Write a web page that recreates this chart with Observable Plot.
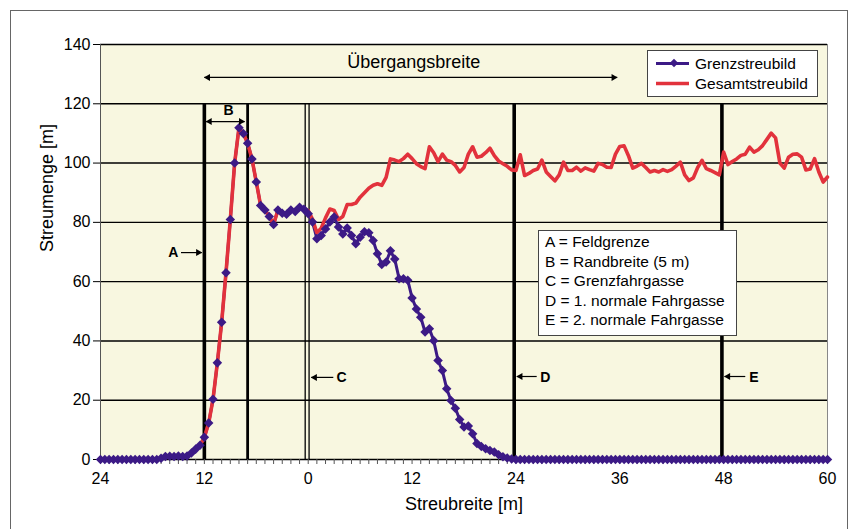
<!DOCTYPE html>
<html>
<head>
<meta charset="utf-8">
<script src="https://cdn.jsdelivr.net/npm/d3@7"></script>
<script src="https://cdn.jsdelivr.net/npm/@observablehq/plot@0.6"></script>
<style>
  html, body { margin: 0; padding: 0; background: #fff; }
  #wrap { position: relative; width: 856px; height: 529px; overflow: hidden; font-family: "Liberation Sans", Arial, sans-serif; }
  #outer { position: absolute; left: 10px; top: 10px; width: 838px; height: 540px; border: 1px solid #666; box-sizing: border-box; }
  #chart { position: absolute; left: 0; top: 0; }
  #legend { position: absolute; left: 647px; top: 50px; width: 171px; height: 47px; box-sizing: border-box; border: 1px solid #444; background: #fff; }
  #legend .row { position: absolute; left: 0; height: 20px; width: 100%; font-size: 15.5px; line-height: 20px; }
  #legend svg { position: absolute; left: 7px; top: 0; }
  #legend span { position: absolute; left: 47px; top: 0; white-space: nowrap; }
  #keybox { position: absolute; left: 538px; top: 230px; width: 199px; height: 106px; box-sizing: border-box; border: 1px solid #444; background: #fff; padding: 1px 0 0 6px; font-size: 15.5px; line-height: 19.5px; white-space: nowrap; }
</style>
</head>
<body>
<div id="wrap">
  <div id="outer"></div>
  <div id="chart"></div>
  <div id="legend"></div>
  <div id="keybox"></div>
</div>
<script>
// ---------- data ----------
// positions across the field (m), every 0.5 m from -24 to 60
const streubreite = d3.range(169).map(i => -24 + i * 0.5);

// Grenzstreubild (border spreading pattern), one value per position
const grenzstreubild = [
  0,0,0,0,0,0,0,0,0,0,0,0,0,0,                       // -24 .. -17.5
  0.4,1.0,1.1,1.0,1.2,1.0,1.2,2.2,3.5,4.8,            // -17 .. -12.5
  7.5,12.3,20.3,32.6,46.3,63,81,100,111.9,110,        // -12 .. -7.5
  106.7,101.4,93.6,85.7,84.2,82,79.3,84.2,83.1,82.7,  // -7 .. -2.5
  84.2,83.7,85.1,84.4,                                // -2 .. -0.5
  82.9,80.1,74.5,75.6,77.8,80.1,81.8,78.4,76.1,78.1,  // 0 .. 4.5
  75.6,72.8,75,76.8,76.5,73.9,69.4,65.8,66.6,70.4,    // 5 .. 9.5
  67.6,61,61,60.5,54.5,50.8,48,43,44.1,40.1,          // 10 .. 14.5
  33.4,30,23.9,19.9,17.3,13.5,11,11.3,8.7,5.4,        // 15 .. 19.5
  4.4,3.6,3.0,2.5,1.6,0.9,0.5,0.2,                    // 20 .. 23.5
  0,0,0,0,0,0,0,0,0,0,0,0,0,0,0,0,0,0,0,0,0,0,0,0,     // 24 .. 35.5
  0,0,0,0,0,0,0,0,0,0,0,0,0,0,0,0,0,0,0,0,0,0,0,0,     // 36 .. 47.5
  0,0,0,0,0,0,0,0,0,0,0,0,0,0,0,0,0,0,0,0,0,0,0,0,0    // 48 .. 60
];

// Gesamtstreubild (total spreading pattern)
const gesamtstreubild = [
  0,0,0,0,0,0,0,0,0,0,0,0,0,0,
  0.4,1.0,1.1,1.0,1.2,1.0,1.2,2.2,3.5,4.8,
  7.5,12.3,20.3,32.6,46.3,63,81,100,111.9,110,
  106.7,101.4,93.6,85.7,84.2,82,79.3,84.2,83.1,82.7,
  84.2,83.7,85.1,84.4,
  84,81,76.5,78,81.5,84.5,84,81,82,86,                // 0 .. 4.5
  86,86.5,88.5,90,91.5,92.5,93,92.5,95.2,101.4,       // 5 .. 9.5
  101,100.5,101.5,103,101.5,99.8,98.8,98.1,105.5,103.5, // 10 .. 14.5
  100.5,103,101,100.5,99.2,97,98.5,103,105.5,102,     // 15 .. 19.5
  102.3,103.5,105,102.5,100.7,99.8,98.9,97.7,         // 20 .. 23.5
  97.5,102.8,95.8,96.5,97.5,98,101,97,95.5,94,96,100.3,       // 24 .. 29.5
  97.5,97.5,98.6,97.3,98.4,97.8,97.3,99.9,99.5,98.6,98.5,103, // 30 .. 35.5
  105.6,105.8,102.5,98.3,99,99.9,98.5,97,97.5,97,97.8,97.2,   // 36 .. 41.5
  97.8,99,100.3,96,94.1,95,98.5,100.9,98.1,97.5,96.8,96,      // 42 .. 47.5
  103.7,99.5,100.5,101.4,102.6,103,105.4,103.7,104.5,105.9,108,110.1, // 48 .. 53.5
  108.5,100,98.3,102,103,103.1,102,97.7,98,101.5,97,93.6,     // 54 .. 59.5
  95.3                                                        // 60
];

const xTickValues = [-24, -12, 0, 12, 24, 36, 48, 60];
const yTickValues = [0, 20, 40, 60, 80, 100, 120, 140];
const minorTicks = d3.range(-24, 61, 1);

// reference lines: A Feldgrenze, B Randbreite, C Grenzfahrgasse (double), D, E
const thickLines = [{x: -12, w: 3.6}, {x: -7, w: 2.8}, {x: 23.8, w: 3.6}, {x: 47.8, w: 3.6}];
const thinLines = [-0.35, 0.1];
const linesTop = 120;

// double-headed arrows
const doubleArrows = [{x1: -12, x2: 35.7, y: 128.9}, {x1: -11.8, x2: -7.35, y: 114}];
// single arrows (from -> to)
const singleArrows = [
  {from: -14.7, to: -12.3, y: 69.8},
  {from: 2.9, to: 0.35, y: 27.7},
  {from: 26.4, to: 24.1, y: 28},
  {from: 50.5, to: 48.1, y: 28}
];
const letterLabels = [
  {x: -15.6, y: 69.8, t: "A"},
  {x: -9.2, y: 117.8, t: "B"},
  {x: 3.85, y: 27.5, t: "C"},
  {x: 27.4, y: 27.7, t: "D"},
  {x: 51.5, y: 27.7, t: "E"}
];
const titleLabel = [{x: 12.2, y: 134, t: "Übergangsbreite"}];

const seriesNames = ["Grenzstreubild", "Gesamtstreubild"];
const seriesColors = ["#3c1a86", "#e2323c"];
const keyLines = ["A = Feldgrenze", "B = Randbreite (5 m)", "C = Grenzfahrgasse", "D = 1. normale Fahrgasse", "E = 2. normale Fahrgasse"];

// ---------- build ----------
const grenzData = streubreite.map((x, i) => ({x, y: grenzstreubild[i]}));
const gesamtData = streubreite.map((x, i) => ({x, y: gesamtstreubild[i]}));

const leftHeads = [
  ...doubleArrows.map(d => ({x: d.x1, y: d.y})),
  ...singleArrows.filter(d => d.to < d.from).map(d => ({x: d.to, y: d.y}))
];
const rightHeads = [
  ...doubleArrows.map(d => ({x: d.x2, y: d.y})),
  ...singleArrows.filter(d => d.to > d.from).map(d => ({x: d.to, y: d.y}))
];

const plot = Plot.plot({
  width: 856,
  height: 529,
  marginLeft: 100,
  marginRight: 29,
  marginTop: 44,
  marginBottom: 70,
  style: {background: "transparent", fontFamily: "'Liberation Sans', Arial, sans-serif", color: "#000"},
  x: {domain: [-24, 60], axis: null},
  y: {domain: [0, 140], axis: null},
  marks: [
    Plot.frame({fill: "#f8f7e0", stroke: "#888", strokeWidth: 1}),
    Plot.ruleY(yTickValues, {stroke: "#000", strokeWidth: 1.4}),
    Plot.ruleX(thickLines, {x: "x", y1: 0, y2: linesTop, stroke: "#000", strokeWidth: "w"}),
    Plot.ruleX(thinLines, {x: d => d, y1: 0, y2: linesTop, stroke: "#000", strokeWidth: 1.3}),
    // axes
    Plot.axisY(yTickValues, {tickSize: 7, tickPadding: 3, fontSize: 16, label: null, stroke: "#000"}),
    Plot.axisX(minorTicks, {tickSize: 5, tickFormat: () => "", label: null, stroke: "#555"}),
    Plot.axisX(xTickValues, {tickSize: 0, tickPadding: 13, fontSize: 16, tickFormat: d => Math.abs(d), label: null}),
    Plot.ruleX([-24], {stroke: "#555"}),
    // series: purple line, red line, purple markers on top
    Plot.line(grenzData, {x: "x", y: "y", stroke: seriesColors[0], strokeWidth: 3, strokeLinejoin: "round"}),
    Plot.line(gesamtData, {x: "x", y: "y", stroke: seriesColors[1], strokeWidth: 3.6, strokeLinejoin: "round"}),
    Plot.dot(grenzData, {x: "x", y: "y", symbol: "square", rotate: 45, r: 3.8, fill: seriesColors[0], stroke: "none"}),
    // annotations
    Plot.link(doubleArrows, {x1: "x1", x2: "x2", y1: "y", y2: "y", stroke: "#000", strokeWidth: 1.2}),
    Plot.link(singleArrows, {x1: "from", x2: "to", y1: "y", y2: "y", stroke: "#000", strokeWidth: 1.2}),
    Plot.dot(leftHeads, {x: "x", y: "y", symbol: "triangle", rotate: -90, r: 2.6, dx: 3.6, fill: "#000", stroke: "none"}),
    Plot.dot(rightHeads, {x: "x", y: "y", symbol: "triangle", rotate: 90, r: 2.6, dx: -3.6, fill: "#000", stroke: "none"}),
    Plot.text(letterLabels, {x: "x", y: "y", text: "t", fontWeight: "bold", fontSize: 14, fill: "#000"}),
    Plot.text(titleLabel, {x: "x", y: "y", text: "t", fontSize: 18, fill: "#000"}),
    // axis titles
    Plot.text(["Streumenge [m]"], {frameAnchor: "left", dx: -53, rotate: -90, fontSize: 18, fill: "#000"}),
    Plot.text(["Streubreite [m]"], {frameAnchor: "bottom", dy: 50, fontSize: 18, fill: "#000"})
  ]
});
document.getElementById("chart").appendChild(plot);

// legend
const legend = document.getElementById("legend");
seriesNames.forEach((name, i) => {
  const row = document.createElement("div");
  row.className = "row";
  row.style.top = (3 + i * 19.5) + "px";
  const marker = i === 0 ? `<rect x="16" y="6" width="6" height="6" transform="rotate(45 19 9)" fill="${seriesColors[0]}"/>` : "";
  row.innerHTML = `<svg width="34" height="20"><line x1="1" x2="37" y1="9.5" y2="9.5" stroke="${seriesColors[i]}" stroke-width="${i === 0 ? 3 : 3.6}"/>${marker}</svg><span>${name}</span>`;
  legend.appendChild(row);
});

// key box
document.getElementById("keybox").innerHTML = keyLines.map(t => `<div>${t}</div>`).join("");
</script>
</body>
</html>
